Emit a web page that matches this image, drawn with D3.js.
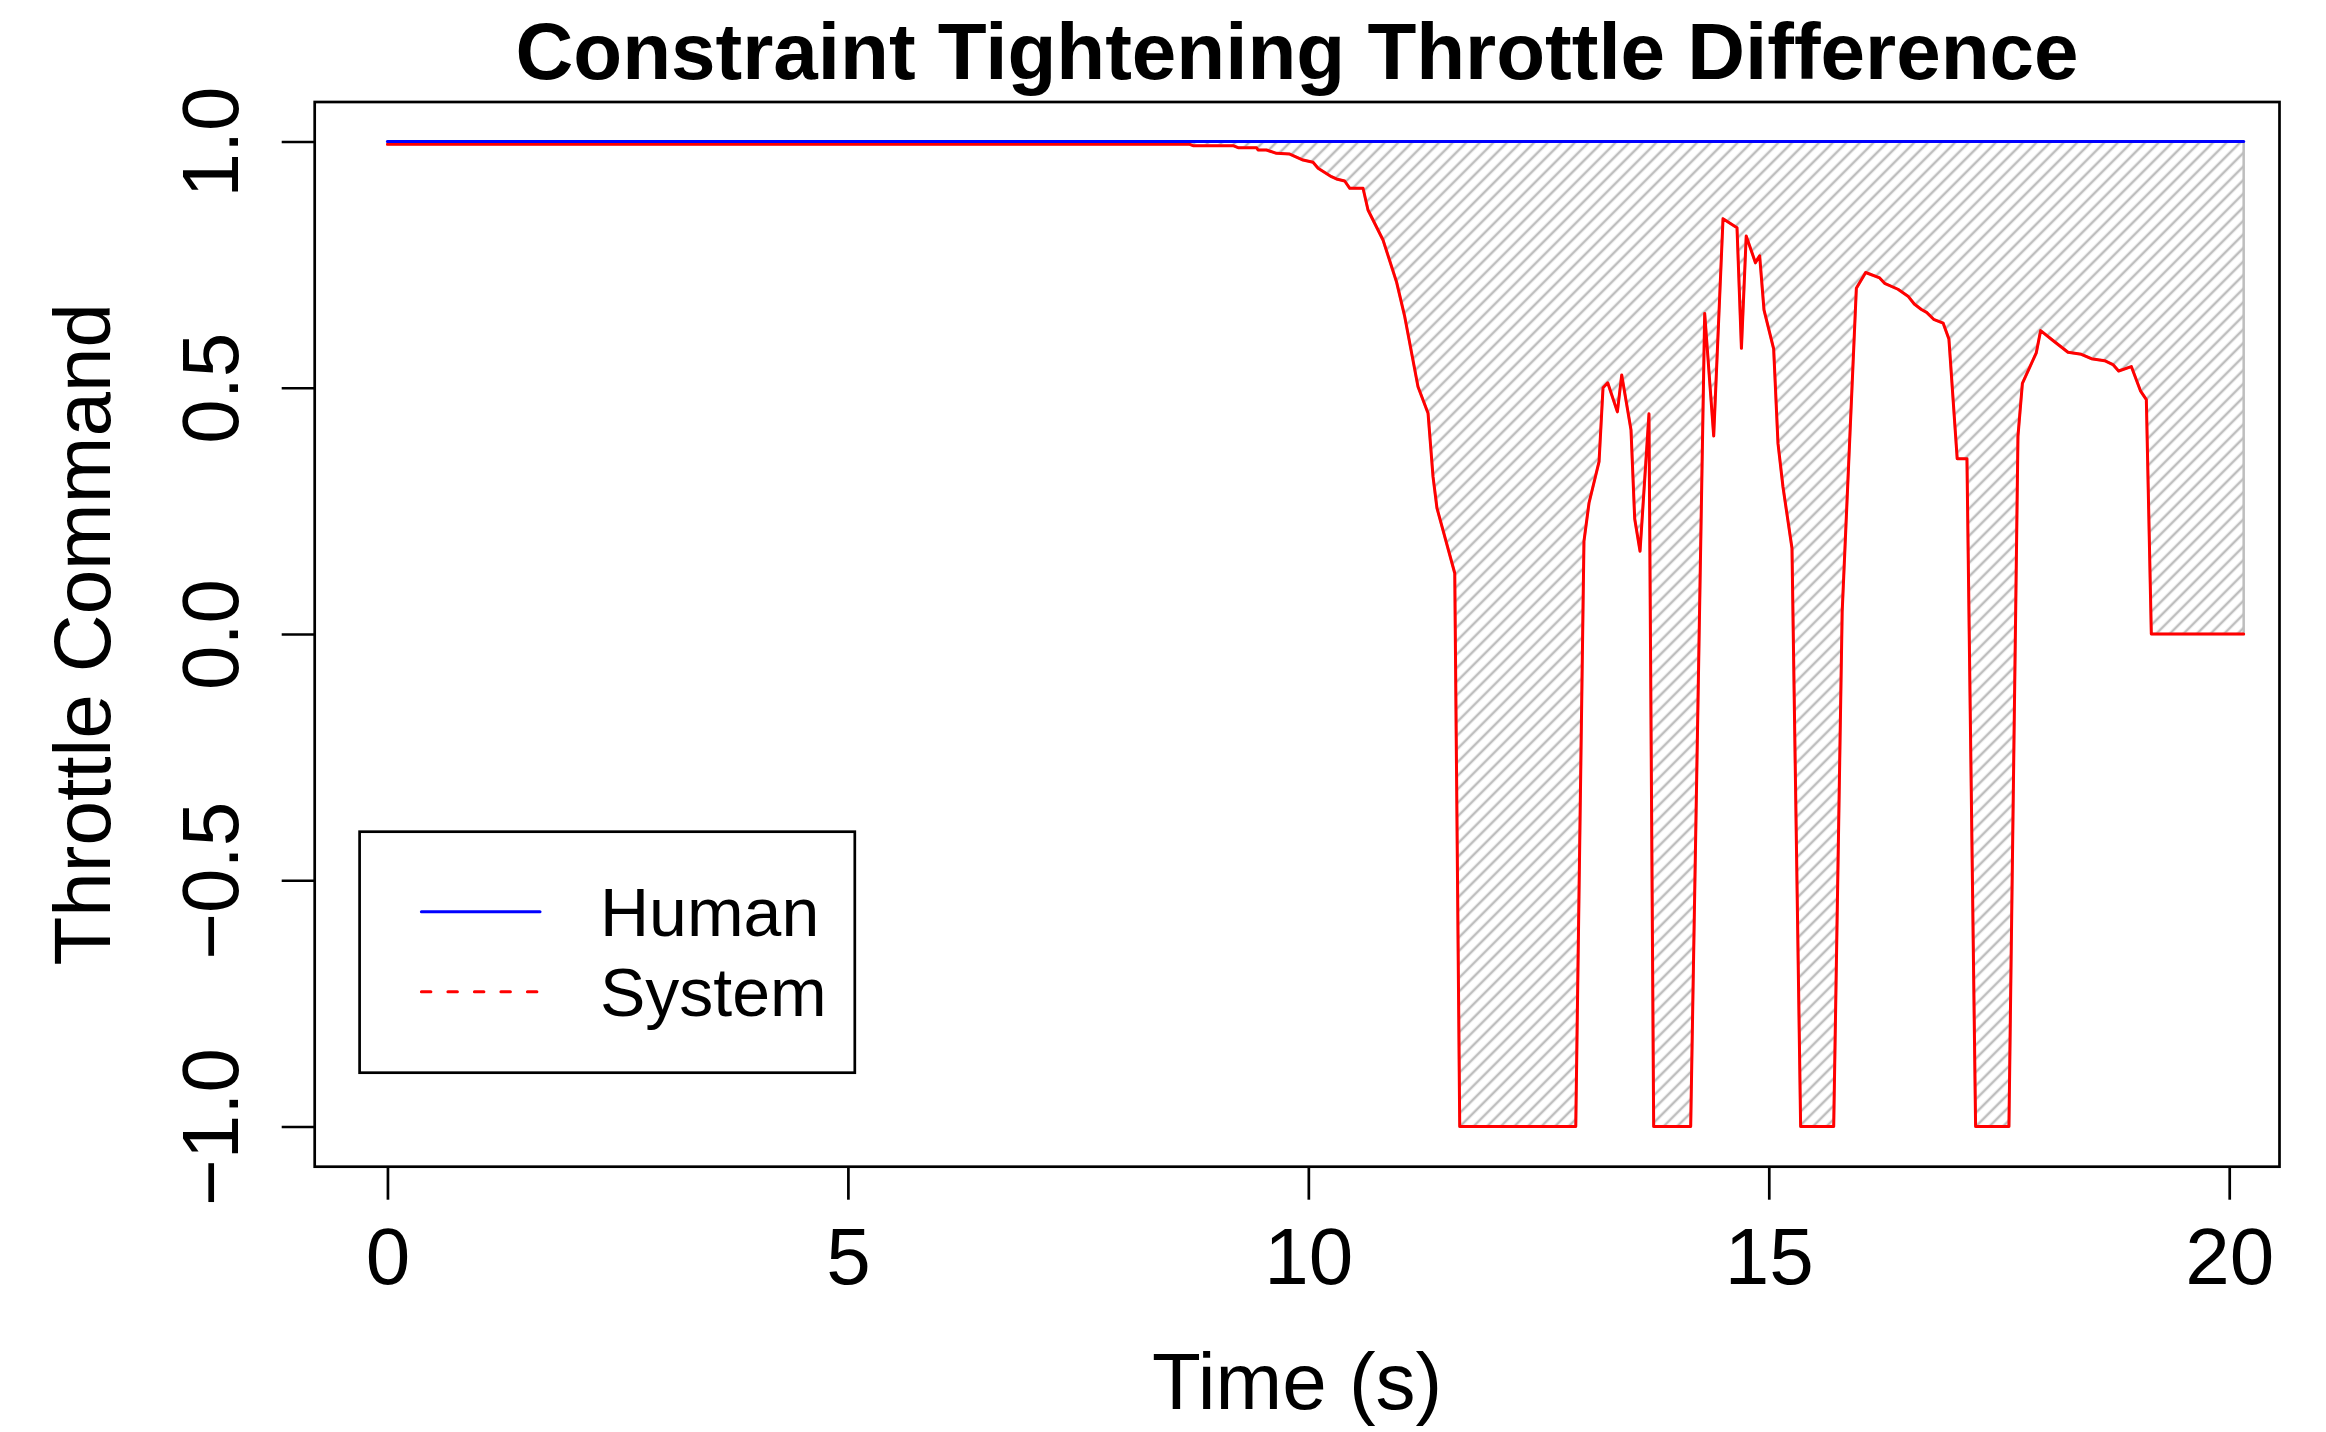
<!DOCTYPE html>
<html>
<head>
<meta charset="utf-8">
<script src="https://cdn.jsdelivr.net/npm/d3@7"></script>
<style>
  html, body { margin: 0; padding: 0; background: #fff; }
  svg { display: block; }
  text { font-family: "Liberation Sans", Arial, Helvetica, sans-serif; fill: #000; }
</style>
</head>
<body>
<script>
// ---- data ----
const titleText = "Constraint Tightening Throttle Difference";
const xLabel = "Time (s)";
const yLabel = "Throttle Command";
const xTicks = [0, 5, 10, 15, 20];
const yTicks = [-1, -0.5, 0, 0.5, 1];
const seriesNames = ["Human", "System"];
const seriesColors = ["#0000ff", "#ff0000"];

const humanTime  = [0, 20.157];
const humanValue = [1.0, 1.0];

const systemTime = [0, 8.712, 8.748, 9.183, 9.237, 9.437, 9.454, 9.545, 9.654, 9.798,
  9.943, 10.051, 10.106, 10.251, 10.305, 10.395, 10.450, 10.594, 10.648, 10.811,
  10.957, 11.047, 11.191, 11.300, 11.354, 11.397, 11.590, 11.644, 12.904, 12.993,
  13.048, 13.157, 13.200, 13.251, 13.356, 13.403, 13.504, 13.544, 13.602, 13.699,
  13.750, 14.152, 14.304, 14.402, 14.503, 14.655, 14.703, 14.755, 14.855, 14.901,
  14.948, 15.053, 15.100, 15.154, 15.252, 15.346, 15.705, 15.797, 15.951, 16.052,
  16.204, 16.258, 16.403, 16.512, 16.580, 16.657, 16.714, 16.790, 16.894, 16.956,
  17.046, 17.152, 17.246, 17.608, 17.706, 17.754, 17.905, 17.952, 18.086, 18.249,
  18.394, 18.503, 18.647, 18.737, 18.799, 18.937, 19.038, 19.100, 19.154, 20.157];
const systemValue = [0.9943, 0.9943, 0.9915, 0.9915, 0.9874, 0.9874, 0.9827, 0.9827, 0.976, 0.9746,
  0.9624, 0.9578, 0.9456, 0.9285, 0.9239, 0.9198, 0.905, 0.905, 0.8609, 0.80,
  0.7154, 0.6443, 0.5022, 0.4482, 0.3195, 0.2554, 0.1234, -1, -1, 0.188,
  0.266, 0.350, 0.500, 0.510, 0.451, 0.526, 0.414, 0.234, 0.168, 0.447,
  -1, -1, 0.651, 0.402, 0.843, 0.825, 0.580, 0.808, 0.754, 0.768,
  0.658, 0.579, 0.387, 0.299, 0.174, -1, -1, 0.045, 0.702, 0.734,
  0.723, 0.712, 0.700, 0.686, 0.670, 0.659, 0.653, 0.639, 0.631, 0.599,
  0.356, 0.356, -1, -1, 0.402, 0.509, 0.571, 0.616, 0.596, 0.572,
  0.568, 0.559, 0.555, 0.547, 0.534, 0.543, 0.493, 0.476, 0.0, 0.0];

// ---- layout ----
const W = 2326, H = 1432;
const plotL = 314.7, plotR = 2279.5, plotT = 102, plotB = 1166.7;
const FONT = 80;

const svg = d3.select("body").append("svg").attr("width", W).attr("height", H);

const x = d3.scaleLinear().domain([-0.79, 20.546]).range([plotL, plotR]);
const y = d3.scaleLinear().domain([-1.0816, 1.0802]).range([plotB, plotT]);

const human = humanTime.map((t, i) => [t, humanValue[i]]);
const system = systemTime.map((t, i) => [t, systemValue[i]]);

// hatch pattern
const defs = svg.append("defs");
const pat = defs.append("pattern")
  .attr("id", "hatch")
  .attr("patternUnits", "userSpaceOnUse")
  .attr("width", 9.6).attr("height", 9.6)
  .attr("patternTransform", "rotate(45)");
pat.append("line")
  .attr("x1", 4.8).attr("y1", -1).attr("x2", 4.8).attr("y2", 10.6)
  .attr("stroke", "#bebebe").attr("stroke-width", 2.5);

// polygon between the two series
const polyPts = system.concat(human.slice().reverse());
svg.append("path")
  .attr("d", d3.line().x(d => x(d[0])).y(d => y(d[1]))(polyPts) + "Z")
  .attr("fill", "url(#hatch)")
  .attr("stroke", "#bebebe")
  .attr("stroke-width", 2.5);

const line = d3.line().x(d => x(d[0])).y(d => y(d[1]));

svg.append("path")
  .attr("d", line(system))
  .attr("fill", "none")
  .attr("stroke", seriesColors[1])
  .attr("stroke-width", 3)
  .attr("stroke-linejoin", "round")
  .attr("stroke-linecap", "round");

svg.append("path")
  .attr("d", line(human))
  .attr("fill", "none")
  .attr("stroke", seriesColors[0])
  .attr("stroke-width", 3)
  .attr("stroke-linejoin", "round")
  .attr("stroke-linecap", "round");

// box
svg.append("rect")
  .attr("x", plotL).attr("y", plotT)
  .attr("width", plotR - plotL).attr("height", plotB - plotT)
  .attr("fill", "none").attr("stroke", "#000").attr("stroke-width", 2.7);

// x axis
const gx = svg.append("g").attr("transform", `translate(0,${plotB})`)
  .call(d3.axisBottom(x).tickValues(xTicks).tickSize(33).tickFormat(d3.format("d")));
gx.select(".domain").remove();
gx.selectAll(".tick line").attr("stroke", "#000").attr("stroke-width", 2.7);
gx.selectAll(".tick text")
  .attr("y", 1284 - plotB).attr("dy", null)
  .style("font-size", FONT + "px")
  .attr("fill", "#000")
  .attr("font-family", null);

// y axis
const gy = svg.append("g").attr("transform", `translate(${plotL},0)`)
  .call(d3.axisLeft(y).tickValues(yTicks).tickSize(33).tickFormat(d3.format(".1f")));
gy.select(".domain").remove();
gy.selectAll(".tick line").attr("stroke", "#000").attr("stroke-width", 2.7);
gy.selectAll(".tick text")
  .attr("x", null).attr("dy", null)
  .attr("transform", `translate(${238 - plotL},0) rotate(-90)`)
  .attr("text-anchor", "middle")
  .style("font-size", FONT + "px")
  .attr("fill", "#000")
  .attr("font-family", null);

// titles
svg.append("text")
  .attr("x", (plotL + plotR) / 2).attr("y", 79)
  .attr("text-anchor", "middle")
  .style("font-size", "80px").style("font-weight", "bold")
  .text(titleText);

svg.append("text")
  .attr("x", (plotL + plotR) / 2).attr("y", 1409)
  .attr("text-anchor", "middle")
  .style("font-size", FONT + "px")
  .text(xLabel);

svg.append("text")
  .attr("transform", `translate(110,${(plotT + plotB) / 2}) rotate(-90)`)
  .attr("text-anchor", "middle")
  .style("font-size", FONT + "px")
  .text(yLabel);

// legend
const lg = svg.append("g");
lg.append("rect")
  .attr("x", 359.6).attr("y", 831.7).attr("width", 495.2).attr("height", 241)
  .attr("fill", "#fff").attr("stroke", "#000").attr("stroke-width", 2.7);
const legendY = [911.7, 991.7];
const legendDash = [null, "9.5 17"];
seriesNames.forEach((name, i) => {
  lg.append("line")
    .attr("x1", 421.4).attr("x2", 540).attr("y1", legendY[i]).attr("y2", legendY[i])
    .attr("stroke", seriesColors[i]).attr("stroke-width", 3)
    .attr("stroke-linecap", "round")
    .attr("stroke-dasharray", legendDash[i]);
  lg.append("text")
    .attr("x", 600).attr("y", legendY[i] + 24.5)
    .style("font-size", "68px")
    .text(name);
});
</script>
</body>
</html>
